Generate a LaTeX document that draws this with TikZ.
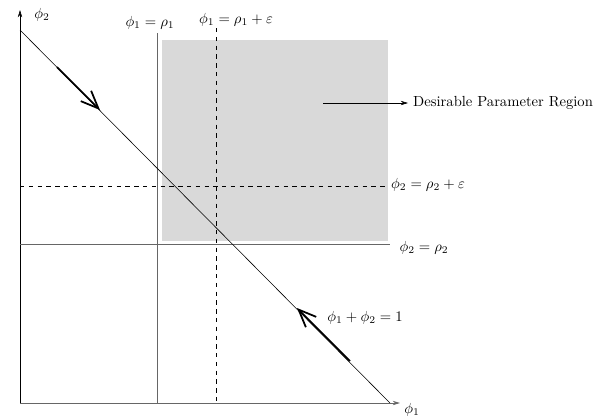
\documentclass[tikz,border=0pt]{standalone}
\usepackage{amsmath,amssymb}
\usepackage{xcolor}
\usepackage{tikz}
\usetikzlibrary{arrows.meta}

\begin{document}
\begin{tikzpicture}[x=0.024cm,y=-0.024cm,>={Stealth[length=5pt,width=3pt]}]
  \useasboundingbox (0,0) rectangle (595,418);
  % desirable region
  \fill[black!15] (162,40) rectangle (388,241);
  % axes
  \draw[->] (20,403) -- (20,10);
  \draw[black!60,semithick,->] (20,403) -- (400,403);
  \node (phitwo) at (42,15) {$\phi_2$};
  \node (phione) at (412,410) {$\phi_1$};
  % bounds
  \draw[black!60,semithick] (157,33) -- (157,403);
  \draw[dashed] (216,28) -- (216,403);
  \draw[dashed] (20,186) -- (388,186);
  \draw[black!60,semithick] (20,244) -- (390,244);
  \node (rhoone) at (150,23) {$\phi_1 = \rho_1$};
  \node (rhooneeps) at (236,20) {$\phi_1 = \rho_1 + \varepsilon$};
  \node (rhotwoeps) at (428,185) {$\phi_2 = \rho_2 + \varepsilon$};
  \node (rhotwo) at (424,248) {$\phi_2 = \rho_2$};
  % constraint line
  \draw (20,30) -- (390,403);
  \draw[very thick,-{Straight Barb[length=12pt,width=10pt]}] (57,67) -- (100,110);
  \draw[very thick,-{Straight Barb[length=12pt,width=10pt]}] (350,361) -- (297,308);
  \node (sumone) at (365,318) {$\phi_1 + \phi_2 = 1$};
  % legend
  \node[right] (region) at (408,103) {Desirable Parameter Region};
  \coordinate (regstart) at (323,103);
  \draw[->] (regstart) -- (region.west);
\end{tikzpicture}
\end{document}
